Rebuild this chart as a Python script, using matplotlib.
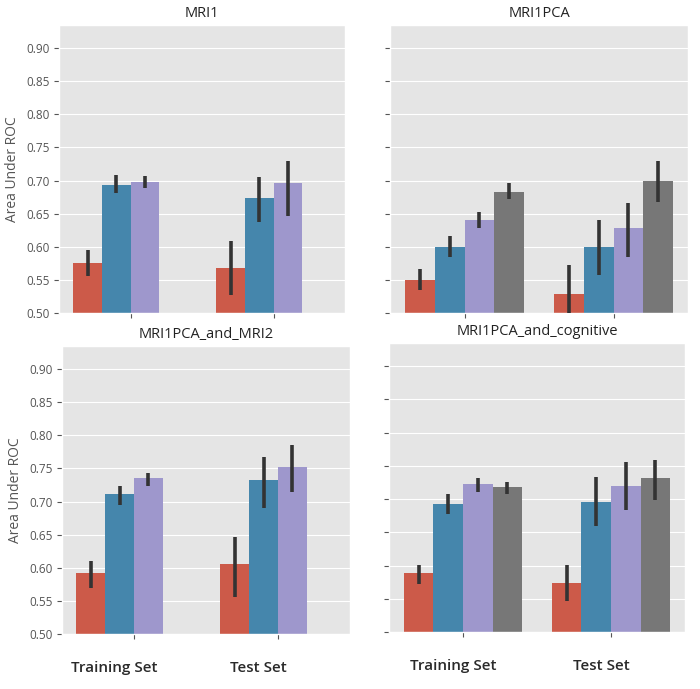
import colorsys
import numpy as np
import matplotlib
matplotlib.use("Agg")
import matplotlib.pyplot as plt
import matplotlib.colors as mcolors
from matplotlib.transforms import ScaledTranslation

plt.style.use("ggplot")
plt.rcParams["font.family"] = ["Open Sans", "DejaVu Sans"]

groups = ["Training Set", "Test Set"]
panels = ["MRI1", "MRI1PCA", "MRI1PCA_and_MRI2", "MRI1PCA_and_cognitive"]
base_colors = ["#E24A33", "#348ABD", "#988ED5", "#777777"]

# mean AUC per model (rows) for Training / Test, and CI low / high
mri1_mean = [[0.576, 0.568], [0.694, 0.673], [0.698, 0.696], [np.nan, np.nan]]
mri1_lo = [[0.556, 0.527], [0.681, 0.637], [0.689, 0.647], [np.nan, np.nan]]
mri1_hi = [[0.595, 0.608], [0.709, 0.705], [0.707, 0.730], [np.nan, np.nan]]

pca_mean = [[0.550, 0.528], [0.600, 0.600], [0.640, 0.628], [0.683, 0.700]]
pca_lo = [[0.534, 0.495], [0.585, 0.558], [0.628, 0.585], [0.672, 0.668]]
pca_hi = [[0.566, 0.573], [0.616, 0.640], [0.653, 0.666], [0.697, 0.730]]

mri2_mean = [[0.592, 0.605], [0.711, 0.733], [0.735, 0.752], [np.nan, np.nan]]
mri2_lo = [[0.569, 0.556], [0.695, 0.691], [0.723, 0.715], [np.nan, np.nan]]
mri2_hi = [[0.611, 0.647], [0.724, 0.768], [0.743, 0.786], [np.nan, np.nan]]

cog_mean = [[0.589, 0.574], [0.692, 0.696], [0.723, 0.720], [0.718, 0.732]]
cog_lo = [[0.573, 0.546], [0.678, 0.660], [0.711, 0.683], [0.708, 0.699]]
cog_hi = [[0.601, 0.601], [0.707, 0.734], [0.732, 0.756], [0.726, 0.759]]

data = [(mri1_mean, mri1_lo, mri1_hi), (pca_mean, pca_lo, pca_hi),
        (mri2_mean, mri2_lo, mri2_hi), (cog_mean, cog_lo, cog_hi)]


def desat(c, prop=0.75):
    h, l, s = colorsys.rgb_to_hls(*mcolors.to_rgb(c))
    return colorsys.hls_to_rgb(h, l, s * prop)


colors = [desat(c) for c in base_colors]

fig = plt.figure(figsize=(7, 6.89), dpi=100)
W, H = 700, 689
boxes = [(59, 25, 345, 313), (390, 25, 688, 313),
         (62, 346, 350, 634), (389, 343, 685, 632)]
label_shift = {2: -20, 3: -10}

x = np.arange(len(groups))
width = 0.2
for i, (title, (mean, lo, hi)) in enumerate(zip(panels, data)):
    l, t, r, b = boxes[i]
    ax = fig.add_axes([l / W, 1 - b / H, (r - l) / W, (b - t) / H])
    mean = np.array(mean)
    lo = np.array(lo)
    hi = np.array(hi)
    for k in range(4):
        pos = x - 0.3 + k * width
        if np.all(np.isnan(mean[k])):
            continue
        ax.bar(pos, mean[k], width, color=colors[k], zorder=2)
        ax.vlines(pos, lo[k], hi[k], color="#333333", lw=2.6, zorder=3)
    ax.set_xlim(-0.5, 1.5)
    ax.set_ylim(0.5, 0.935)
    ax.set_yticks(np.arange(0.5, 0.91, 0.05))
    ax.grid(axis="x", visible=False)
    ax.set_title(title, fontsize=10.5, color="#222222", pad=6)
    ax.set_xticks(x)
    if i >= 2:
        ax.set_xticklabels(groups, fontsize=11, color="#2a2a2a", fontweight="semibold")
        ax.tick_params(axis="x", pad=16)
        for lab in ax.get_xticklabels():
            lab.set_transform(lab.get_transform() + ScaledTranslation(label_shift[i] / 100, 0, fig.dpi_scale_trans))
    else:
        ax.set_xticklabels([])
    if i % 2 == 0:
        ax.set_yticklabels(["%.2f" % v for v in np.arange(0.5, 0.91, 0.05)], fontsize=8.5)
        ax.set_ylabel("Area Under ROC", fontsize=10, color="#555555")
    else:
        ax.set_yticklabels([])

fig.savefig("out.png", dpi=100)
